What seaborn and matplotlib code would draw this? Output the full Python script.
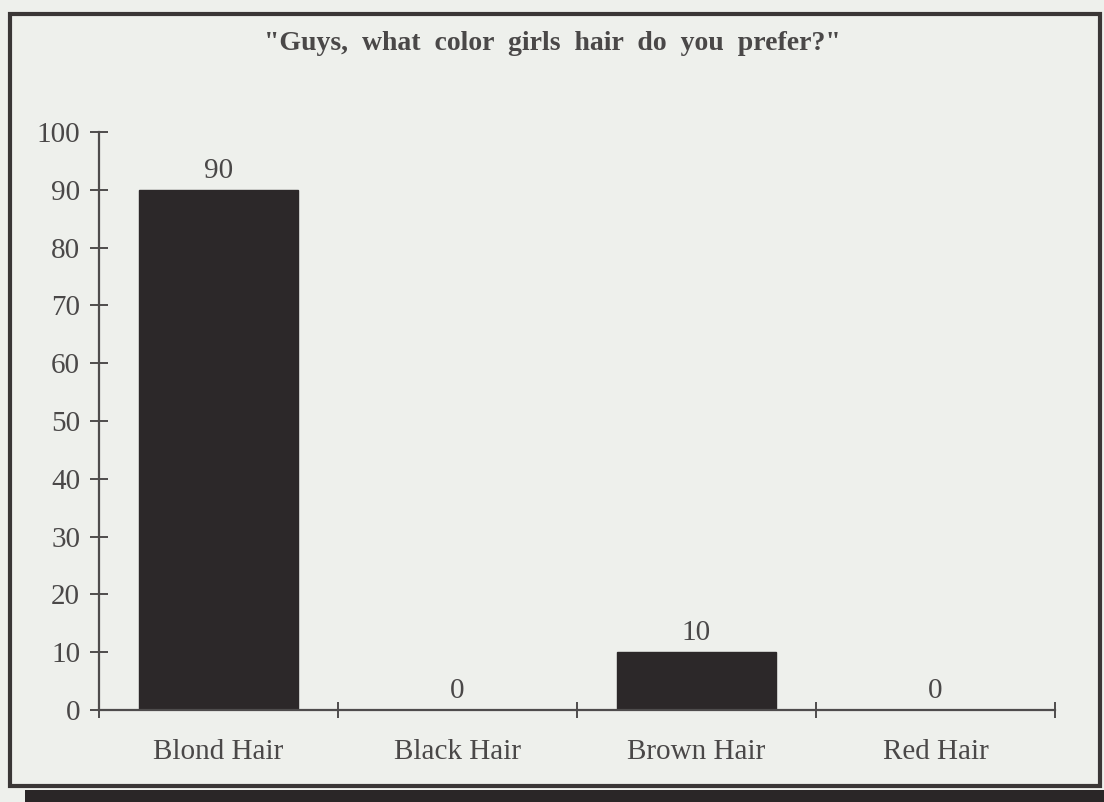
import matplotlib
matplotlib.use("Agg")
import matplotlib.pyplot as plt
import seaborn as sns
import pandas as pd
from matplotlib.patches import Rectangle

categories = ["Blond Hair", "Black Hair", "Brown Hair", "Red Hair"]
values = [90, 0, 10, 0]
yticks = [0, 10, 20, 30, 40, 50, 60, 70, 80, 90, 100]
title = "\"Guys,  what  color  girls  hair  do  you  prefer?\""

sns.set_theme(style="white")
plt.rcParams["font.family"] = ["Liberation Serif", "DejaVu Serif"]

BG = "#eef0ec"
TXT = "#4a4848"
BAR = "#2c2829"
LINE = "#4e4c4c"

fig = plt.figure(figsize=(11.04, 8.02), dpi=100, facecolor=BG)
ax = fig.add_axes([99 / 1104, 1 - 710 / 802, (1055 - 99) / 1104, (710 - 132) / 802])
ax.set_facecolor(BG)

df = pd.DataFrame({"cat": categories, "val": values})
sns.barplot(data=df, x="cat", y="val", color=BAR, saturation=1, width=0.665,
            edgecolor=BAR, ax=ax)

ax.set_xlim(-0.5, 3.5)
ax.set_ylim(0, 100)
for s in ["top", "right"]:
    ax.spines[s].set_visible(False)
for s in ["left", "bottom"]:
    ax.spines[s].set_color(LINE)
    ax.spines[s].set_linewidth(1.6)

ax.set_yticks(yticks)
ax.set_yticklabels([str(v) for v in yticks])
ax.tick_params(axis="y", direction="inout", length=13, width=1.4, color=LINE,
               labelsize=21, labelcolor=TXT, pad=7, left=True)

ax.set_xticks([-0.5, 0.5, 1.5, 2.5, 3.5])
ax.set_xticklabels([])
ax.set_xticks(range(len(categories)), minor=True)
ax.set_xticklabels(categories, minor=True)
ax.tick_params(axis="x", which="major", direction="inout", length=12, width=1.4,
               color=LINE, bottom=True)
ax.tick_params(axis="x", which="minor", length=0, labelsize=21, labelcolor=TXT, pad=21)

ax.set_xlabel("")
ax.set_ylabel("")

for c in ax.containers:
    ax.bar_label(c, labels=[str(v) for v in values], padding=4.5, fontsize=21, color=TXT)

fig.text(0.5, 1 - 43 / 802, title, ha="center", va="center", fontsize=20,
         fontweight="bold", color=TXT)

# frame border and bottom band
fig.patches.append(Rectangle((10 / 1104, 1 - 786 / 802), (1100 - 10) / 1104, (786 - 14) / 802,
                             transform=fig.transFigure, fill=False, edgecolor="#3a3636",
                             linewidth=3))
fig.patches.append(Rectangle((25 / 1104, 0), 1, 12 / 802, transform=fig.transFigure,
                             facecolor="#2a2627", edgecolor="none"))

fig.savefig("out.png", dpi=100, facecolor=BG)
